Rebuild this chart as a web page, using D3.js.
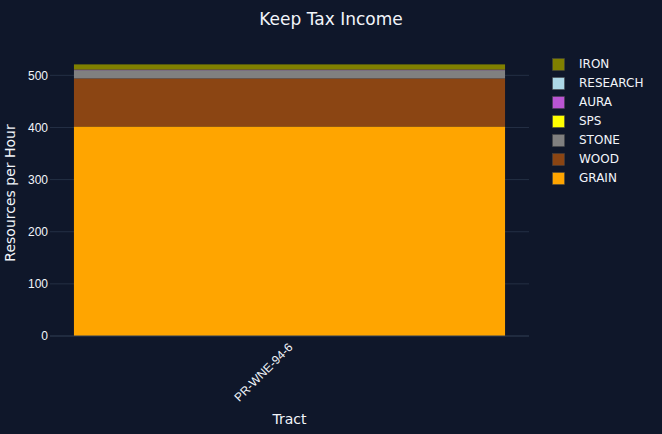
<!DOCTYPE html>
<html>
<head>
<meta charset="utf-8">
<script src="https://cdn.jsdelivr.net/npm/d3@7"></script>
<style>
  body { margin: 0; background: #0f172a; }
  svg { display: block; font-family: "DejaVu Sans", Verdana, sans-serif; }
</style>
</head>
<body>
<div id="chart"></div>
<script>
// Data
const tracts = ["PR-WNE-94-6"];
const resources = ["GRAIN", "WOOD", "STONE", "SPS", "AURA", "RESEARCH", "IRON"];
const grain = [402];
const wood = [92];
const stone = [16];
const sps = [0];
const aura = [1];
const research = [0];
const iron = [10];
const yTicks = [0, 100, 200, 300, 400, 500];

const colors = {
  GRAIN: "#FFA500", WOOD: "#8B4513", STONE: "#808080", SPS: "#FFFF00",
  AURA: "#BA55D3", RESEARCH: "#ADD8E6", IRON: "#808000"
};

const W = 662, H = 434;
const margin = { top: 50, right: 133, bottom: 98, left: 50 };
const width = W - margin.left - margin.right,
      height = H - margin.top - margin.bottom;

// build rows for the stack
const series = { GRAIN: grain, WOOD: wood, STONE: stone, SPS: sps, AURA: aura, RESEARCH: research, IRON: iron };
const rows = tracts.map((t, i) => {
  const r = { tract: t };
  resources.forEach(k => r[k] = series[k][i]);
  return r;
});
const stacked = d3.stack().keys(resources)(rows);

const svg = d3.select("#chart").append("svg")
    .attr("width", W).attr("height", H);
svg.append("rect").attr("width", W).attr("height", H).attr("fill", "#0f172a");

const g = svg.append("g").attr("transform", `translate(${margin.left},${margin.top})`);

const x = d3.scaleBand().domain(tracts).range([0, width])
    .paddingInner(0.1).paddingOuter(0.05);
const maxY = d3.max(stacked[stacked.length - 1], d => d[1]);
const y = d3.scaleLinear().domain([0, maxY * 1.053]).range([height, 0]);

// grid
g.append("g").selectAll("line").data(yTicks.filter(v => v > 0)).join("line")
    .attr("x1", 0).attr("x2", width)
    .attr("y1", d => y(d)).attr("y2", d => y(d))
    .attr("stroke", "#243044").attr("stroke-width", 1);

// bars
g.append("g").selectAll("g").data(stacked).join("g")
    .attr("fill", d => colors[d.key])
  .selectAll("rect").data(d => d).join("rect")
    .attr("x", d => x(d.data.tract))
    .attr("width", x.bandwidth())
    .attr("y", d => y(d[1]))
    .attr("height", d => y(d[0]) - y(d[1]));

// zero line
g.append("line").attr("x1", 0).attr("x2", width)
    .attr("y1", y(0)).attr("y2", y(0))
    .attr("stroke", "#334155").attr("stroke-width", 1);

// Y axis
const yAxis = g.append("g")
    .call(d3.axisLeft(y).tickValues(yTicks).tickSize(0).tickPadding(2));
yAxis.select(".domain").remove();
yAxis.selectAll("text").attr("fill", "#f2f5fa").style("font-size", "12px");

// X axis
const xAxis = g.append("g").attr("transform", `translate(0,${height})`)
    .call(d3.axisBottom(x).tickSize(0).tickPadding(0));
xAxis.select(".domain").remove();
xAxis.selectAll("text")
    .attr("fill", "#f2f5fa").style("font-size", "12px")
    .attr("dy", "0.35em")
    .attr("transform", "translate(1,9)rotate(-45)")
    .style("text-anchor", "end");

// titles
svg.append("text").attr("x", W / 2).attr("y", 25)
    .attr("text-anchor", "middle").attr("fill", "#f2f5fa")
    .style("font-size", "17px").text("Keep Tax Income");
svg.append("text").attr("x", margin.left + width / 2).attr("y", 424)
    .attr("text-anchor", "middle").attr("fill", "#f2f5fa")
    .style("font-size", "14px").text("Tract");
svg.append("text")
    .attr("transform", `translate(15,${margin.top + height / 2})rotate(-90)`)
    .attr("text-anchor", "middle").attr("fill", "#f2f5fa")
    .style("font-size", "14px").text("Resources per Hour");

// legend (reverse order, top = IRON)
const legend = svg.append("g").attr("transform", "translate(552,64)");
const items = legend.selectAll("g").data(resources.slice().reverse()).join("g")
    .attr("transform", (d, i) => `translate(0,${i * 19})`);
items.append("rect").attr("x", 0.5).attr("y", -5.5).attr("width", 12).attr("height", 12)
    .attr("fill", d => colors[d]).attr("stroke", "#444").attr("stroke-width", 0.5);
items.append("text").attr("x", 27).attr("y", 0).attr("dy", "0.35em")
    .attr("fill", "#f2f5fa").style("font-size", "12px").text(d => d);
</script>
</body>
</html>
